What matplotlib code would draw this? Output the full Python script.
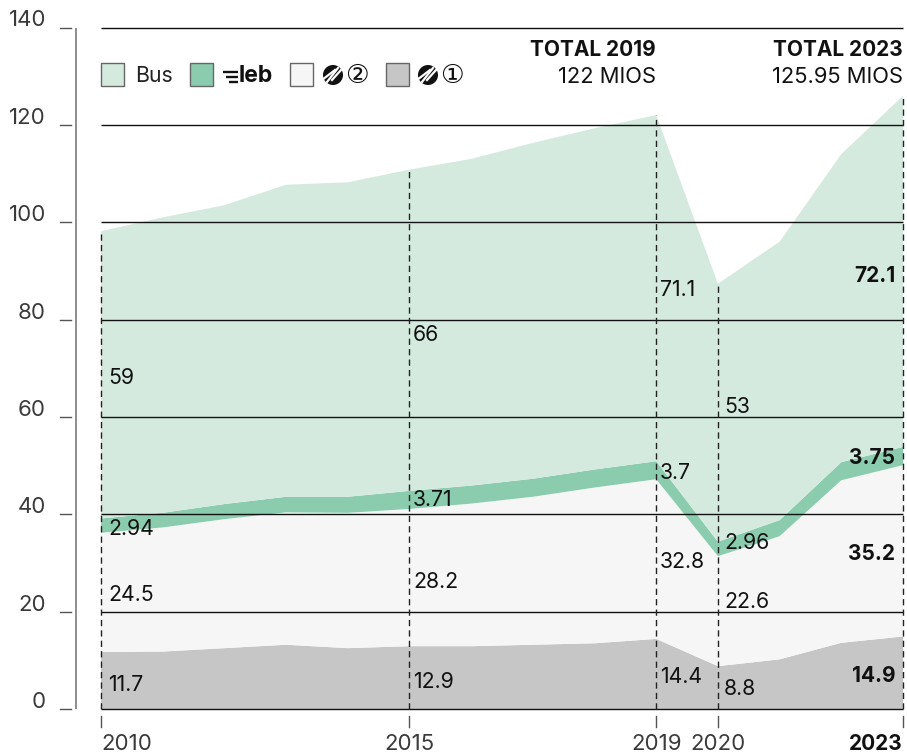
import matplotlib
matplotlib.use("Agg")
import matplotlib.pyplot as plt
from matplotlib.patches import Rectangle, Circle
import numpy as np

plt.rcParams['font.family'] = ['Inter', 'DejaVu Sans']

years = list(range(2010, 2024))
rail1 = [11.7, 11.8, 12.5, 13.2, 12.5, 12.9, 12.9, 13.2, 13.5, 14.4, 8.8, 10.2, 13.6, 14.9]
rail2 = [24.5, 25.5, 26.5, 27.2, 27.8, 28.2, 29.3, 30.4, 32.0, 32.8, 22.6, 25.3, 33.4, 35.2]
leb = [2.94, 3.0, 3.1, 3.2, 3.3, 3.71, 3.7, 3.7, 3.7, 3.7, 2.96, 3.3, 3.7, 3.75]
bus = [59, 60.7, 61.4, 64.1, 64.6, 66, 67.1, 69, 70.1, 71.1, 53, 57.2, 63.3, 72.1]
series_colors = ['#c6c6c6', '#f6f6f6', '#8accad', '#d5eade']
y_ticks = [0, 20, 40, 60, 80, 100, 120, 140]
marked_years = [2010, 2015, 2019, 2020, 2023]

W, H = 907, 754
fig = plt.figure(figsize=(W / 100, H / 100), dpi=100, facecolor='white')
x0, x1, y0, y1 = 101, 903, 709, 27.5
ax = fig.add_axes([x0 / W, 1 - y0 / H, (x1 - x0) / W, (y0 - y1) / H])
ax.set_xlim(2010, 2023)
ax.set_ylim(0, 140)
ax.axis('off')

ax.stackplot(years, rail1, rail2, leb, bus, colors=series_colors, linewidth=0, zorder=1)

totals = np.sum([rail1, rail2, leb, bus], axis=0)
for t in y_ticks:
    ax.plot([2010, 2023], [t, t], color='#111111', lw=1.0, zorder=2, clip_on=False, solid_capstyle='butt')

# dashed verticals
for yr in marked_years:
    i = years.index(yr)
    ax.plot([yr, yr], [0, totals[i]], color='#222222', lw=1.0, dashes=(4.5, 3), zorder=3, clip_on=False)

labels = {
    2010: ['11.7', '24.5', '2.94', '59'],
    2015: ['12.9', '28.2', '3.71', '66'],
    2019: ['14.4', '32.8', '3.7', '71.1'],
    2020: ['8.8', '22.6', '2.96', '53'],
}
label_y = {
    2010: [4.9, 23.4, 37, 68],
    2015: [5.6, 26, 43, 76.9],
    2019: [6.5, 30.3, 48.5, 86],
    2020: [4.1, 22, 34.1, 62],
}
label_dx = {2010: 5, 2015: 2.6, 2019: 2.8, 2020: 4.5}
for yr, txts in labels.items():
    for t, yv in zip(txts, label_y[yr]):
        ax.annotate(t, (yr, yv), xytext=(label_dx[yr], 0), textcoords='offset points', fontsize=15.3,
                    va='center', ha='left', color='#111111', zorder=5)
for t, yv in zip(['14.9', '35.2', '3.75', '72.1'], [6.8, 31.9, 51.6, 89]):
    ax.annotate(t, (2023, yv), xytext=(-5.5, 0), textcoords='offset points', fontsize=15,
                va='center', ha='right', color='#111111', fontweight='bold', zorder=5)

# overlay in pixel coordinates
ov = fig.add_axes([0, 0, 1, 1], facecolor='none')
ov.set_xlim(0, W)
ov.set_ylim(H, 0)
ov.axis('off')

ov.plot([76, 76], [27.5, 709], color='#7a7a7a', lw=1.2, solid_capstyle='butt')
for t in y_ticks:
    py = y0 + (y1 - y0) * t / 140
    ov.plot([60, 71], [py, py], color='#555555', lw=1.0)
    ov.text(46, py - 7, str(t), ha='right', va='center', fontsize=16, color='#3a3a3a')

for yr in marked_years:
    px = x0 + (x1 - x0) * (yr - 2010) / 13
    ov.plot([px, px], [716, 727], color='#555555', lw=1.0)
    ov.text(px if yr != 2023 else x1, 744, str(yr),
            ha='left' if yr == 2010 else ('right' if yr == 2023 else 'center'),
            va='center', fontsize=16 if yr != 2023 else 15,
            color='#111111' if yr == 2023 else '#3a3a3a',
            fontweight='bold' if yr == 2023 else 'normal')

# legend
for sx, c in zip([101, 190, 290, 386], [series_colors[3], series_colors[2], series_colors[1], series_colors[0]]):
    ov.add_patch(Rectangle((sx, 63), 23, 23, facecolor=c, edgecolor='#666666', lw=1.0))
ov.text(135, 75.5, 'Bus', fontsize=15.3, va='center', ha='left', color='#222222')
ov.text(238.5, 75.5, 'leb', fontsize=16.5, fontweight='bold', va='center', ha='left', color='#111111')
for ly, lx0 in zip([72, 77, 82], [223, 226, 229]):
    ov.plot([lx0, 238], [ly, ly], color='#111111', lw=1.7, solid_capstyle='butt')
for cx in [333, 428]:
    ov.add_patch(Circle((cx, 75), 10, facecolor='#111111', edgecolor='none'))
    for d in [-5, 0, 5]:
        ov.plot([cx - 6 + d, cx + 5 + d * 0.6], [75 + 7 - abs(d) * .4, 75 - 7 + abs(d) * .4], color='white', lw=1.6)
ov.text(357, 75.5, '②', fontsize=19, va='center', ha='center', family=['DejaVu Sans'], color='#111111')
ov.text(452, 75.5, '①', fontsize=19, va='center', ha='center', family=['DejaVu Sans'], color='#111111')

# totals
ov.text(656, 50, 'TOTAL 2019', ha='right', va='center', fontsize=15, fontweight='bold', color='#111111')
ov.text(656, 77, '122 MIOS', ha='right', va='center', fontsize=15.8, color='#111111')
ov.text(903, 50, 'TOTAL 2023', ha='right', va='center', fontsize=15, fontweight='bold', color='#111111')
ov.text(903, 77, '125.95 MIOS', ha='right', va='center', fontsize=15.8, color='#111111')

fig.savefig('out.png', dpi=100)
